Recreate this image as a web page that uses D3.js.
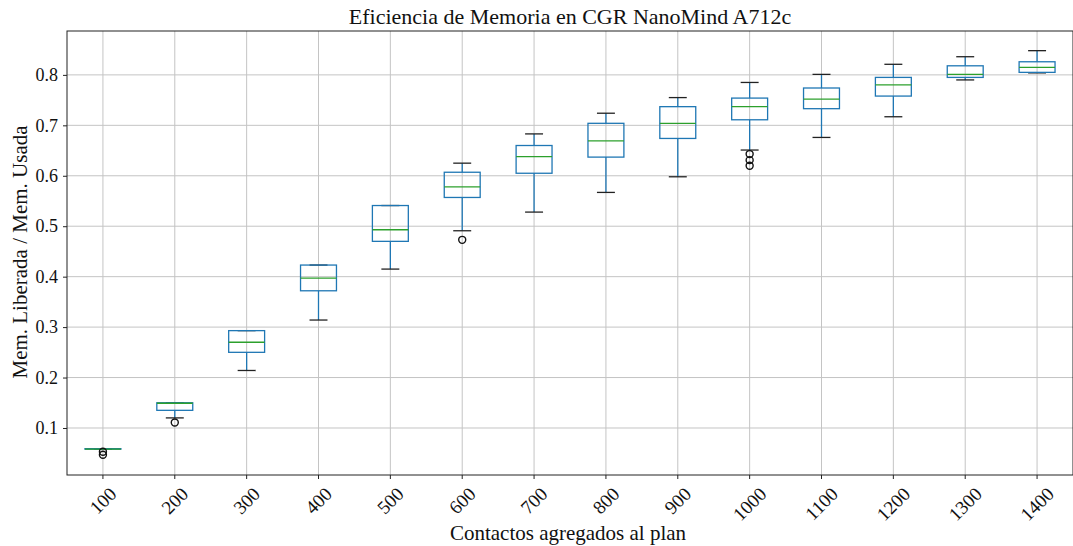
<!DOCTYPE html>
<html>
<head>
<meta charset="utf-8">
<script src="https://cdn.jsdelivr.net/npm/d3@7"></script>
<style>
  body { margin: 0; background: #fff; }
  text { font-family: "Liberation Serif", "DejaVu Serif", serif; fill: #111; }
</style>
</head>
<body>
<div id="chart"></div>
<script>
var width = 1073;
var height = 546;

// contacts added to the plan
var categories = [100, 200, 300, 400, 500, 600, 700, 800, 900, 1000, 1100, 1200, 1300, 1400];
// box stats
var whiskerLow  = [0.058, 0.120, 0.214, 0.314, 0.415, 0.491, 0.528, 0.567, 0.598, 0.651, 0.676, 0.717, 0.790, 0.804];
var q1          = [0.058, 0.135, 0.250, 0.372, 0.470, 0.557, 0.605, 0.637, 0.674, 0.711, 0.733, 0.758, 0.795, 0.805];
var medians     = [0.058, 0.149, 0.270, 0.397, 0.493, 0.578, 0.638, 0.669, 0.704, 0.737, 0.752, 0.780, 0.801, 0.815];
var q3          = [0.059, 0.150, 0.293, 0.423, 0.541, 0.607, 0.660, 0.704, 0.737, 0.754, 0.774, 0.795, 0.818, 0.826];
var whiskerHigh = [0.059, 0.150, 0.293, 0.423, 0.541, 0.625, 0.683, 0.724, 0.755, 0.785, 0.801, 0.821, 0.836, 0.848];
var outliers    = [[0.053, 0.047], [0.111], [], [], [], [0.473], [], [], [], [0.643, 0.631, 0.620], [], [], [], []];

var yTicks = [0.1, 0.2, 0.3, 0.4, 0.5, 0.6, 0.7, 0.8];

var margin = {left: 67, right: 0, top: 31, bottom: 71};

var svg = d3.select("#chart")
  .append("svg")
  .attr("width", width)
  .attr("height", height);

var xScale = d3.scaleBand()
  .domain(categories)
  .range([margin.left, width - margin.right])
  .paddingInner(0).paddingOuter(0);

var yScale = d3.scaleLinear()
  .domain([0.0068, 0.887])
  .range([height - margin.bottom, margin.top]);

var bw = xScale.bandwidth();
function cx(c) { return xScale(c) + bw / 2; }

// grid
svg.append("g")
  .selectAll("line")
  .data(categories)
  .enter()
  .append("line")
  .attr("x1", cx).attr("x2", cx)
  .attr("y1", margin.top).attr("y2", height - margin.bottom)
  .attr("stroke", "#c4c4c4").attr("stroke-width", 1);

svg.append("g")
  .selectAll("line")
  .data(yTicks)
  .enter()
  .append("line")
  .attr("x1", margin.left).attr("x2", width - margin.right)
  .attr("y1", d => yScale(d)).attr("y2", d => yScale(d))
  .attr("stroke", "#c4c4c4").attr("stroke-width", 1);

// boxes
var boxes = svg.append("g")
  .selectAll("g")
  .data(categories.map((c, i) => ({
    c: c, lo: whiskerLow[i], q1: q1[i], med: medians[i], q3: q3[i], hi: whiskerHigh[i], out: outliers[i]
  })))
  .enter()
  .append("g");

boxes.append("line")
  .attr("x1", d => cx(d.c)).attr("x2", d => cx(d.c))
  .attr("y1", d => yScale(d.lo)).attr("y2", d => yScale(d.q1))
  .attr("stroke", "#1f77b4").attr("stroke-width", 1.3);
boxes.append("line")
  .attr("x1", d => cx(d.c)).attr("x2", d => cx(d.c))
  .attr("y1", d => yScale(d.q3)).attr("y2", d => yScale(d.hi))
  .attr("stroke", "#1f77b4").attr("stroke-width", 1.3);

boxes.append("line")
  .attr("x1", d => cx(d.c) - bw / 8).attr("x2", d => cx(d.c) + bw / 8)
  .attr("y1", d => yScale(d.lo)).attr("y2", d => yScale(d.lo))
  .attr("stroke", "#222").attr("stroke-width", 1.3);
boxes.append("line")
  .attr("x1", d => cx(d.c) - bw / 8).attr("x2", d => cx(d.c) + bw / 8)
  .attr("y1", d => yScale(d.hi)).attr("y2", d => yScale(d.hi))
  .attr("stroke", "#222").attr("stroke-width", 1.3);

boxes.append("rect")
  .attr("x", d => cx(d.c) - bw / 4)
  .attr("width", bw / 2)
  .attr("y", d => yScale(d.q3))
  .attr("height", d => Math.max(0.5, yScale(d.q1) - yScale(d.q3)))
  .attr("fill", "none")
  .attr("stroke", "#1f77b4").attr("stroke-width", 1.3);

boxes.append("line")
  .attr("x1", d => cx(d.c) - bw / 4).attr("x2", d => cx(d.c) + bw / 4)
  .attr("y1", d => yScale(d.med)).attr("y2", d => yScale(d.med))
  .attr("stroke", "#2ca02c").attr("stroke-width", 1.3);

boxes.selectAll("circle")
  .data(d => d.out.map(v => ({c: d.c, v: v})))
  .enter()
  .append("circle")
  .attr("cx", d => cx(d.c))
  .attr("cy", d => yScale(d.v))
  .attr("r", 3.5)
  .attr("fill", "none")
  .attr("stroke", "#111").attr("stroke-width", 1.4);

// axes frame
svg.append("rect")
  .attr("x", margin.left).attr("y", margin.top)
  .attr("width", width - margin.right - margin.left)
  .attr("height", height - margin.bottom - margin.top)
  .attr("fill", "none").attr("stroke", "#222").attr("stroke-width", 1);

var yAxis = d3.axisLeft(yScale).tickValues(yTicks).tickSize(4).tickPadding(5)
  .tickFormat(d3.format(".1f"));
var gy = svg.append("g")
  .attr("transform", "translate(" + margin.left + ",0)")
  .call(yAxis);
gy.select(".domain").remove();
gy.selectAll("line").attr("stroke", "#222");
gy.selectAll("text").attr("font-size", "18px").attr("font-family", "Liberation Serif");

var xAxis = d3.axisBottom(xScale).tickSize(4).tickFormat("");
var gx = svg.append("g")
  .attr("transform", "translate(0," + (height - margin.bottom) + ")")
  .call(xAxis);
gx.select(".domain").remove();
gx.selectAll("line").attr("stroke", "#222");

// rotated x tick labels, centered under the tick like matplotlib ha=center
var xl = svg.append("g").selectAll("text")
  .data(categories)
  .enter()
  .append("text")
  .attr("font-size", "19px")
  .attr("text-anchor", "middle")
  .attr("dominant-baseline", "central")
  .text(d => d);
xl.each(function (d) {
  var w = this.getComputedTextLength();
  var h = (w + 13) * Math.SQRT1_2;
  var y = height - margin.bottom + 11 + h / 2;
  d3.select(this).attr("transform", "translate(" + cx(d) + "," + y + ") rotate(-45)");
});

// title and labels
svg.append("text")
  .attr("x", (margin.left + width - margin.right) / 2)
  .attr("y", 16)
  .attr("text-anchor", "middle")
  .attr("dominant-baseline", "central")
  .attr("font-size", "22px")
  .text("Eficiencia de Memoria en CGR NanoMind A712c");

svg.append("text")
  .attr("x", 568)
  .attr("y", 533)
  .attr("text-anchor", "middle")
  .attr("dominant-baseline", "central")
  .attr("font-size", "21px")
  .text("Contactos agregados al plan");

svg.append("text")
  .attr("transform", "translate(20,252) rotate(-90)")
  .attr("text-anchor", "middle")
  .attr("dominant-baseline", "central")
  .attr("font-size", "21px")
  .text("Mem. Liberada / Mem. Usada");
</script>
</body>
</html>
